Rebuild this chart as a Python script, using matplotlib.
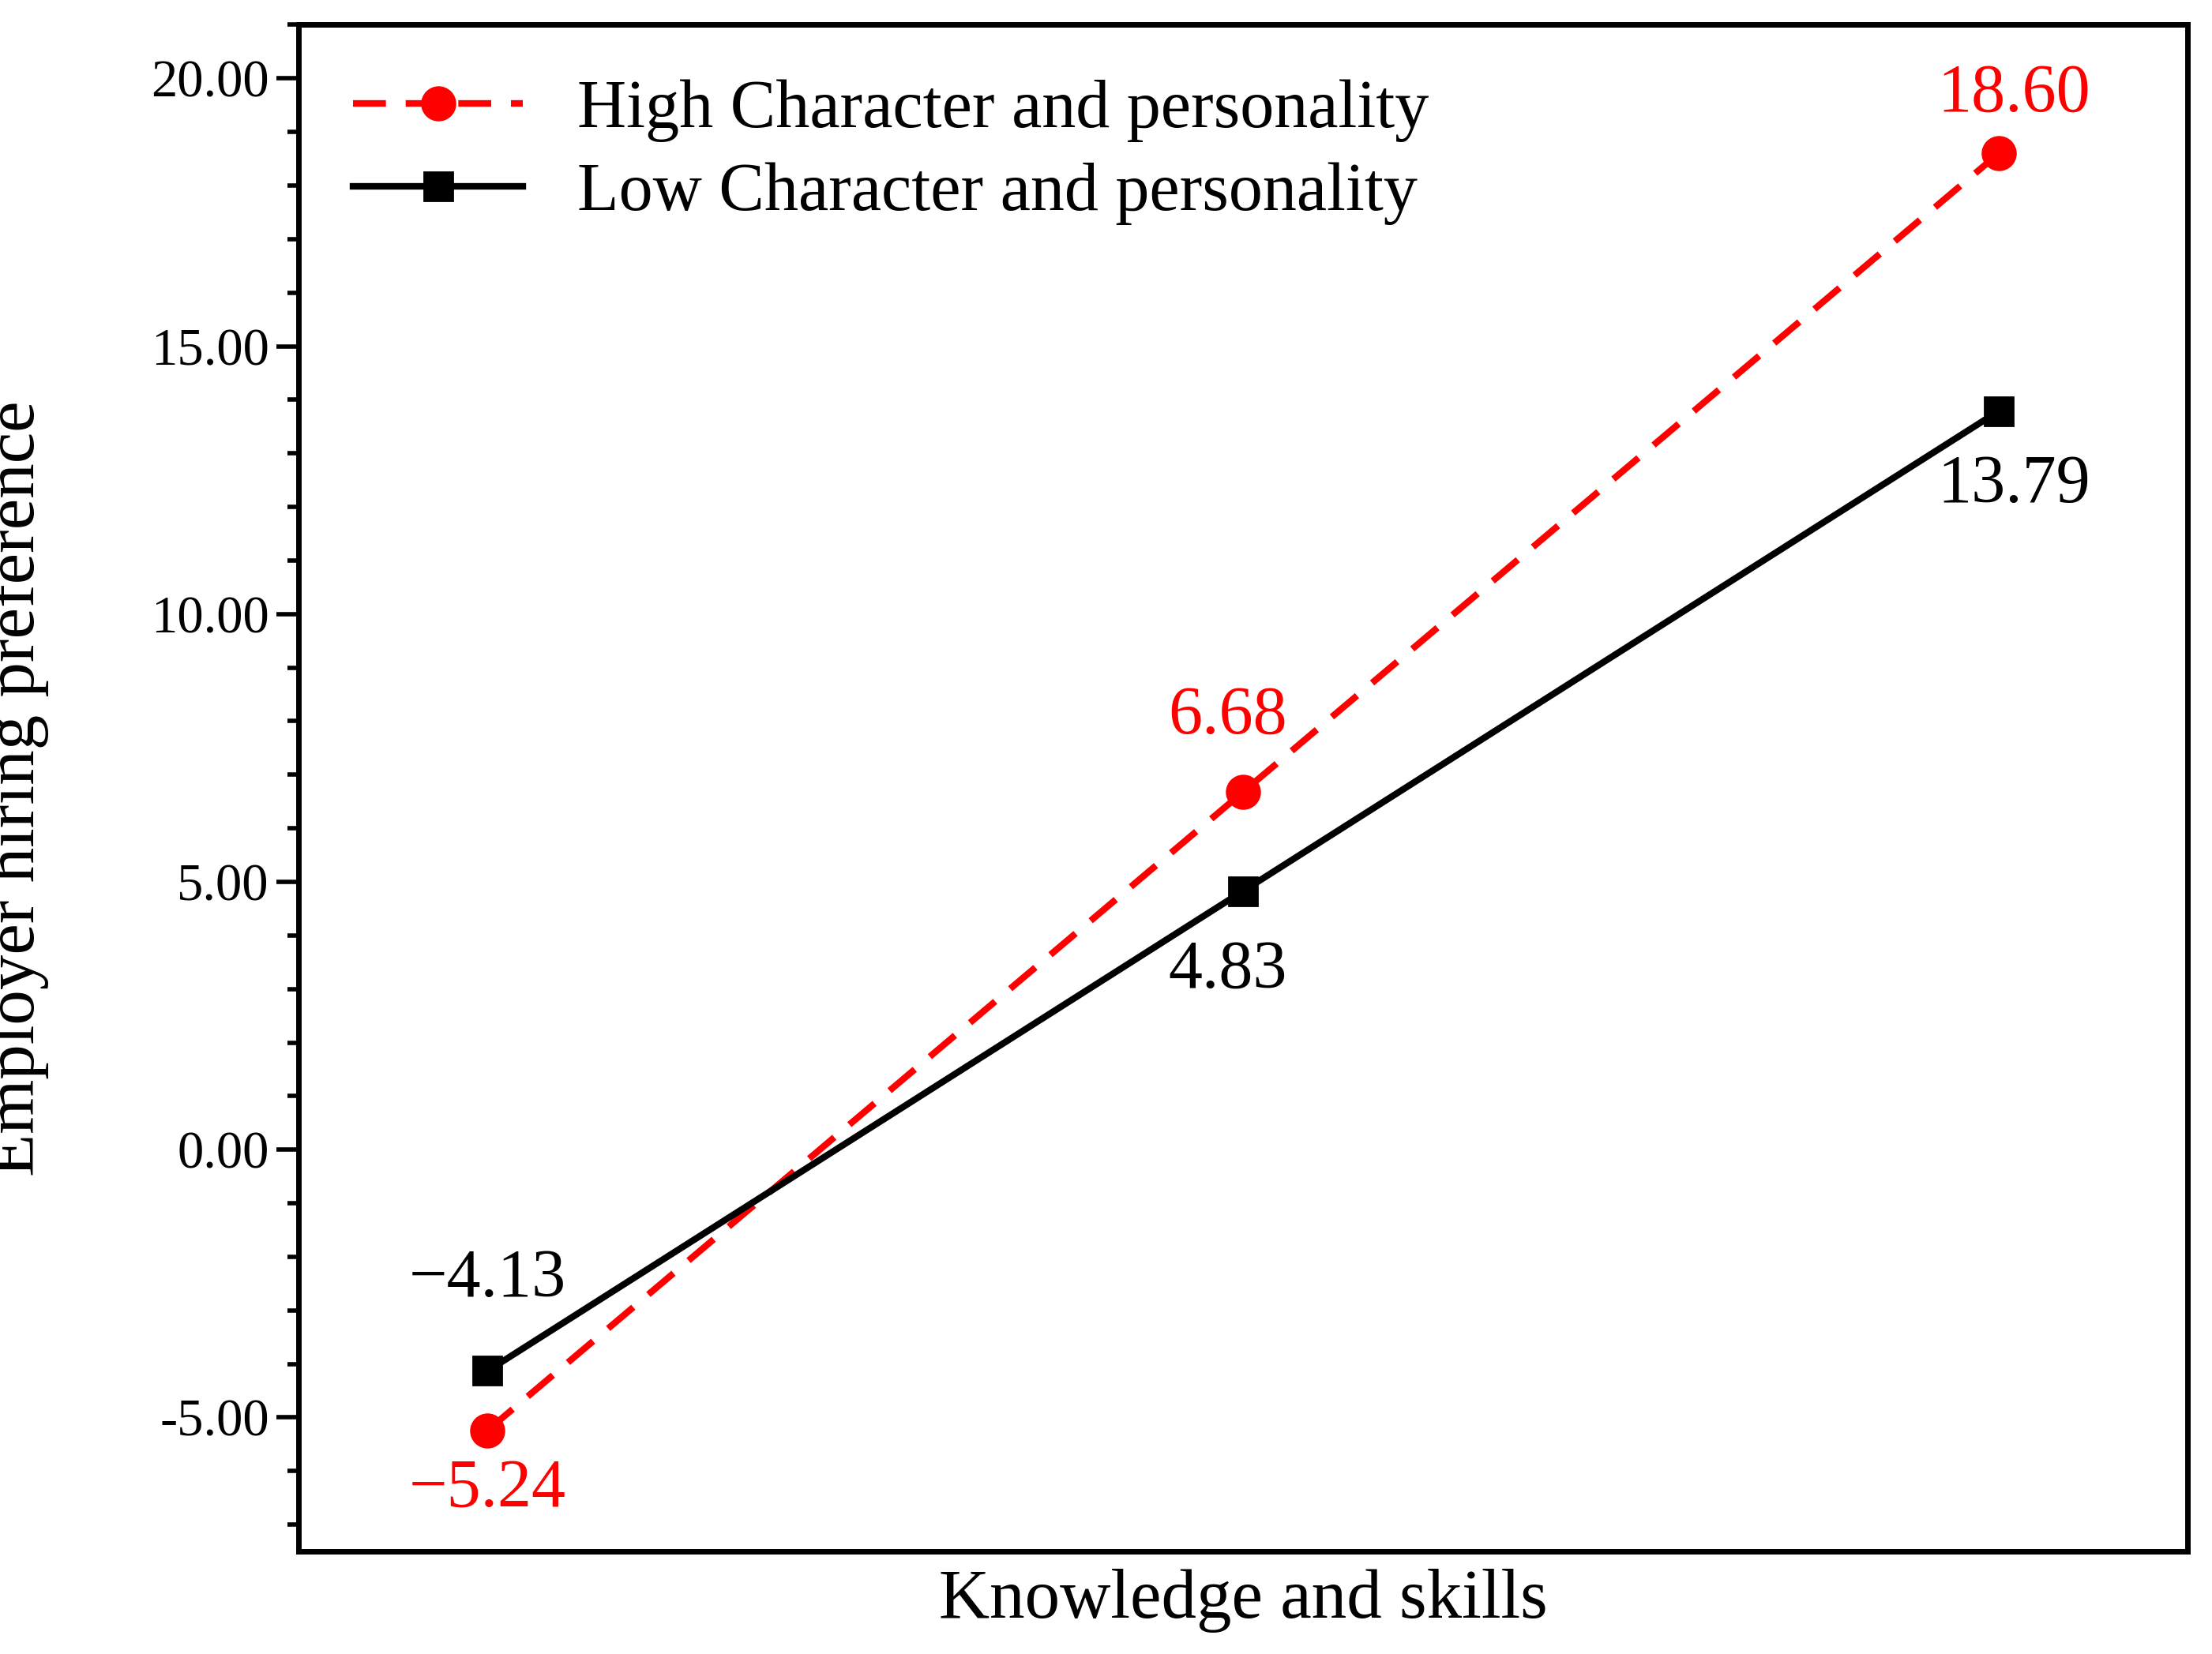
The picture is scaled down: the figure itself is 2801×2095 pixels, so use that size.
import matplotlib
matplotlib.use("Agg")
import matplotlib.pyplot as plt
from matplotlib.ticker import MultipleLocator, FormatStrFormatter

plt.rcParams['font.family'] = ['Liberation Serif', 'DejaVu Serif']

x = [0, 1, 2]
high = [-5.24, 6.68, 18.60]
low = [-4.13, 4.83, 13.79]
high_label = "High Character and personality"
low_label = "Low Character and personality"

fig = plt.figure(figsize=(14.005, 10.475), dpi=200)
ax = fig.add_axes([0.135, 0.062, 0.854, 0.923])
ax.plot(x, high, '--o', color='red', lw=3, ms=15, dashes=(5, 3), label=high_label)
ax.plot(x, low, '-s', color='black', lw=3, ms=13, label=low_label)

for xi, v, dy, dx in zip(x, high, [-1.1, 1.4, 1.1], [0, -0.02, 0.02]):
    ax.text(xi + dx, v + dy, f"{v:.2f}".replace('-', '\u2212'),
            color='red', fontsize=31, ha='center', va='center')
for xi, v, dy, dx in zip(x, low, [1.7, -1.5, -1.4], [0, -0.02, 0.02]):
    ax.text(xi + dx, v + dy, f"{v:.2f}".replace('-', '\u2212'),
            color='black', fontsize=31, ha='center', va='center')

ax.set_xlim(-0.25, 2.25)
ax.set_ylim(-7.5, 21)
ax.set_xticks([])
ax.yaxis.set_major_locator(MultipleLocator(5))
ax.yaxis.set_minor_locator(MultipleLocator(1))
ax.yaxis.set_major_formatter(FormatStrFormatter('%.2f'))
ax.tick_params(axis='y', which='major', direction='out', length=10, width=2, labelsize=24)
ax.tick_params(axis='y', which='minor', direction='out', length=5, width=2)
for s in ax.spines.values():
    s.set_linewidth(2.5)
ax.set_xlabel("Knowledge and skills", fontsize=32, labelpad=8)
ax.set_ylabel("Employer hiring preference", fontsize=32)
ax.yaxis.set_label_coords(-0.132, 0.5)
ax.legend(loc='upper left', fontsize=31, frameon=False, handlelength=2.5,
          borderaxespad=0.4, labelspacing=0.3)
fig.savefig("out.png", dpi=200)
